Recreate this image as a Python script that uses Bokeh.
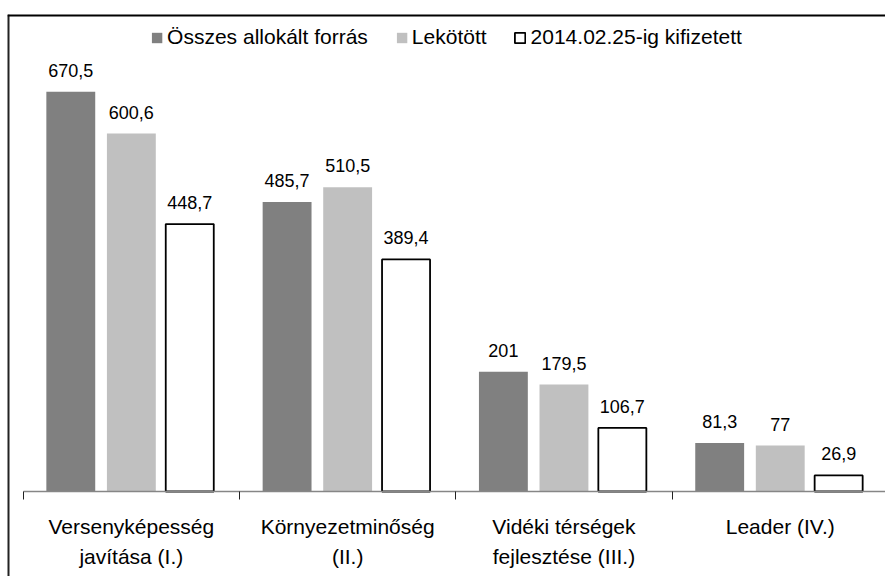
from bokeh.plotting import figure
from bokeh.models import (ColumnDataSource, Range1d, FixedTicker, LabelSet,
                          Legend, LegendItem, Span)
from bokeh.core.properties import value
from bokeh.transform import dodge
from bokeh.embed import file_html
from bokeh.resources import INLINE

# ---- data ----
categories = ["Versenyképesség\njavítása (I.)", "Környezetminőség\n(II.)",
              "Vidéki térségek\nfejlesztése (III.)", "Leader (IV.)"]
osszes = [670.5, 485.7, 201, 81.3]
lekotott = [600.6, 510.5, 179.5, 77]
kifizetett = [448.7, 389.4, 106.7, 26.9]
series_names = ["Összes allokált forrás", "Lekötött", "2014.02.25-ig kifizetett"]


def fmt(v):
    return f"{v:g}".replace(".", ",")


idx = list(range(len(categories)))
src = ColumnDataSource(dict(
    idx=idx,
    osszes=osszes, lekotott=lekotott, kifizetett=kifizetett,
    t_osszes=[fmt(v) for v in osszes],
    t_lekotott=[fmt(v) for v in lekotott],
    t_kifizetett=[fmt(v) for v in kifizetett],
))

line1 = [c.split("\n")[0] for c in categories]
line2 = [c.split("\n")[1] if "\n" in c else "" for c in categories]
cat_src = ColumnDataSource(dict(idx=idx, base=[0] * len(idx), l1=line1, l2=line2))

FONT = value("Liberation Sans")

X0, X1 = -0.5726, 3.4866
Y0, Y1 = -142.6, 800.3

p = figure(width=885, height=576, output_backend="svg", toolbar_location=None,
           x_range=Range1d(X0, X1), y_range=Range1d(Y0, Y1),
           min_border_left=7, min_border_right=0, min_border_top=14,
           min_border_bottom=0)
p.outline_line_color = None
p.xgrid.visible = False
p.ygrid.visible = False
p.yaxis.visible = False

ax = p.xaxis[0]
ax.fixed_location = 0
ax.bounds = (-0.5, 4.0)
ax.ticker = FixedTicker(ticks=[-0.5, 0.5, 1.5, 2.5, 3.5], minor_ticks=[])
ax.major_label_text_color = None
ax.major_label_text_font_size = "1px"
ax.axis_line_color = "#868686"
ax.axis_line_width = 1.5
ax.major_tick_line_color = "#222222"
ax.major_tick_line_width = 1
ax.major_tick_out = 8
ax.major_tick_in = 0
ax.minor_tick_line_color = None

# chart border (left and top edges)
p.add_layout(Span(location=X0, dimension="height", line_color="#222222", line_width=4))
p.add_layout(Span(location=Y1, dimension="width", line_color="#000000", line_width=4))

W = 0.226
r1 = p.vbar(x=dodge("idx", -0.28, range=p.x_range), top="osszes", width=W,
            source=src, fill_color="#808080", line_color=None)
r2 = p.vbar(x=dodge("idx", 0.0, range=p.x_range), top="lekotott", width=W,
            source=src, fill_color="#c0c0c0", line_color=None)
r3 = p.vbar(x=dodge("idx", 0.27, range=p.x_range), top="kifizetett", width=0.222,
            source=src, fill_color="white", line_color="black", line_width=1.8)

for off, col, txt in [(-0.28, "osszes", "t_osszes"), (0.0, "lekotott", "t_lekotott"),
                      (0.27, "kifizetett", "t_kifizetett")]:
    p.add_layout(LabelSet(x=dodge("idx", off, range=p.x_range), y=col, text=txt,
                          source=src, y_offset=15, text_align="center",
                          text_baseline="alphabetic", text_font=FONT,
                          text_font_size="18px", text_color="black"))

for col, yo in [("l1", -42), ("l2", -72)]:
    p.add_layout(LabelSet(x="idx", y="base", text=col, source=cat_src,
                          y_offset=yo, text_align="center",
                          text_baseline="alphabetic", text_font=FONT,
                          text_font_size="21px", text_color="black"))

legend = Legend(items=[LegendItem(label=series_names[0], renderers=[r1]),
                       LegendItem(label=series_names[1], renderers=[r2]),
                       LegendItem(label=series_names[2], renderers=[r3])],
                orientation="horizontal", location="top_center",
                glyph_width=13, glyph_height=13, label_standoff=4, spacing=27,
                padding=2, margin=11, border_line_color=None,
                background_fill_alpha=0,
                label_text_font="Liberation Sans", label_text_font_size="21px",
                label_text_color="black")
p.add_layout(legend)

open("out.html", "w").write(file_html(p, INLINE))
